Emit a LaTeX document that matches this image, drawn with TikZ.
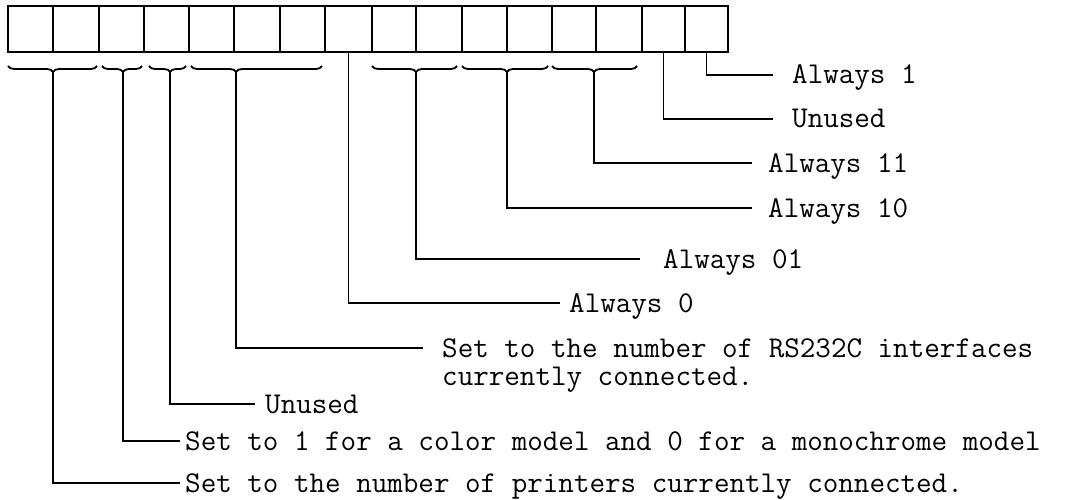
\documentclass[tikz,border=0pt]{standalone}
\usetikzlibrary{decorations.pathreplacing}
\begin{document}
\begin{tikzpicture}[x=1pt,y=1pt,
  cell/.style={draw, line width=2.4pt, minimum height=46pt, inner sep=0pt, outer sep=0pt},
  conn/.style={line width=1.8pt},
  brc/.style={line width=1.8pt, decorate, decoration={brace, mirror, amplitude=6pt}},
  lbl/.style={inner ysep=0pt, text height=18pt, text depth=0pt, font=\fontsize{30.2}{28}\selectfont\ttfamily},
]
\useasboundingbox (0,0) rectangle (1068,-500);
% register cells
\foreach \i/\a/\b in {0/8/53,1/53/99,2/99/144,3/144/189,4/189/234,5/234/280,6/280/325,7/325/372,8/372/416,9/416/462,10/462/507,11/507/552,12/552/596,13/596/642,14/642/685,15/685/728}
  \node[cell, minimum width={(\b-\a)*1pt}] (c\i) at ({(\a+\b)/2},-29) {};
% braces
\draw[brc, decoration={aspect=0.506}] (8,-66) -- (97,-66);
\draw[brc, decoration={aspect=0.525}] (102,-66) -- (142,-66);
\draw[brc, decoration={aspect=0.57}] (149,-66) -- (186,-66);
\draw[brc, decoration={aspect=0.344}] (191,-66) -- (322,-66);
\draw[brc, decoration={aspect=0.518}] (372,-66) -- (457,-66);
\draw[brc, decoration={aspect=0.523}] (462,-66) -- (548,-66);
\draw[brc, decoration={aspect=0.494}] (552,-66) -- (637,-66);
\coordinate (b1) at (53,-72);
\coordinate (b2) at (123,-72);
\coordinate (b3) at (170,-72);
\coordinate (b4) at (236,-72);
\coordinate (b5) at (416,-72);
\coordinate (b6) at (507,-72);
\coordinate (b7) at (594,-72);
% labels
\node[lbl, anchor=west, inner xsep=19pt] (a1) at (773,-75) {Always 1};
\node[lbl, anchor=west, inner xsep=19pt] (u1) at (773,-119) {Unused};
\node[lbl, anchor=west, inner xsep=16pt] (a11) at (752,-163) {Always 11};
\node[lbl, anchor=west, inner xsep=16pt] (a10) at (752,-208) {Always 10};
\node[lbl, anchor=west, inner xsep=23pt] (a01) at (640,-259) {Always 01};
\node[lbl, anchor=west, inner xsep=9pt] (a0) at (560,-303) {Always 0};
\node[lbl, anchor=west, inner xsep=19pt] (rs) at (423,-348) {Set to the number of RS232C interfaces};
\node[lbl, anchor=base west, inner xsep=19pt] (rs2) at ([yshift=-28pt]rs.base west) {currently connected.};
\node[lbl, anchor=west, inner xsep=10pt] (u2) at (255,-404) {Unused};
\node[lbl, anchor=west, inner xsep=5pt] (col) at (180,-441) {Set to 1 for a color model and 0 for a monochrome model};
\node[lbl, anchor=west, inner xsep=5pt] (pr) at (180,-483) {Set to the number of printers currently connected.};
% connectors
\draw[conn] (c15.south) |- (a1.west);
\draw[conn] (c14.south) |- (u1.west);
\draw[conn] (b7) |- (a11.west);
\draw[conn] (b6) |- (a10.west);
\draw[conn] (b5) |- (a01.west);
\draw[conn] (c7.south) |- (a0.west);
\draw[conn] (b4) |- (rs.west);
\draw[conn] (b3) |- (u2.west);
\draw[conn] (b2) |- (col.west);
\draw[conn] (b1) |- (pr.west);
\end{tikzpicture}
\end{document}
